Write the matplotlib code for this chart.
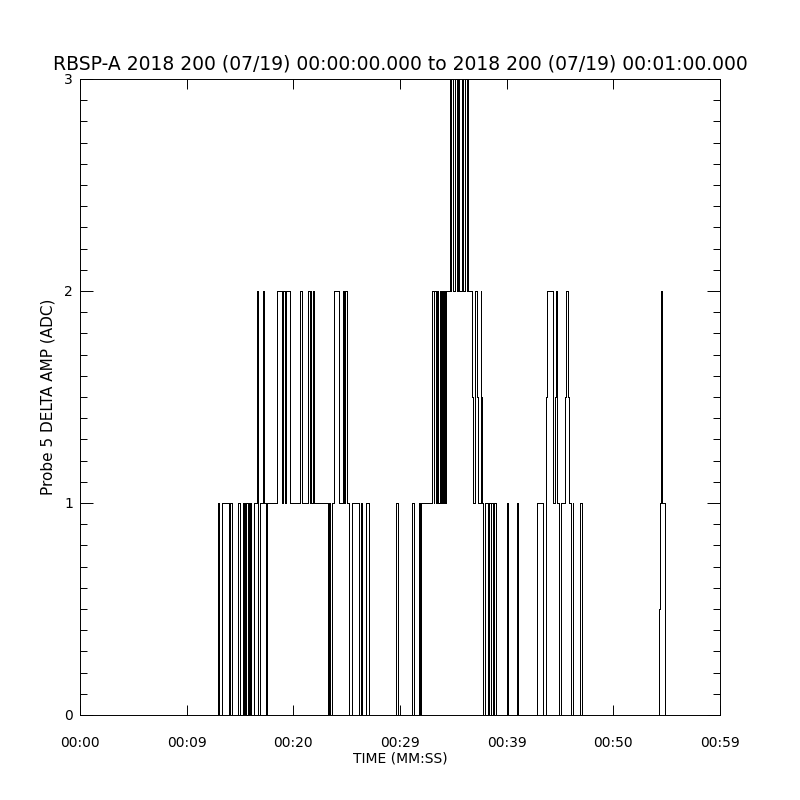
import numpy as np
import matplotlib
matplotlib.use("Agg")
import matplotlib.pyplot as plt
from matplotlib.ticker import MultipleLocator

# step transitions: time (s) at which the signal switches to the given level
t_sec = [0.0,
         12.891, 13.003, 13.341, 13.997, 14.109, 14.222, 14.841, 15.000,
         15.253, 15.347, 15.422, 15.534, 15.609, 15.722, 15.797, 15.891,
         15.966, 16.059, 16.284, 16.566, 16.659, 16.716, 16.903, 17.128,
         17.222, 17.409, 17.578,
         18.497, 18.938, 19.078, 19.219, 19.284, 19.688, 20.653, 20.784,
         21.375, 21.516, 21.609, 21.703, 21.797, 21.966,
         23.278, 23.372, 23.484, 23.597, 23.841, 24.309, 24.628, 24.750,
         24.844, 25.003, 25.247, 25.500, 26.184, 26.297, 26.438, 26.813,
         27.122,
         29.625, 29.841, 31.097, 31.313, 31.781, 31.847, 31.941,
         33.000, 33.141, 33.234, 33.347, 33.422, 33.591, 33.750, 33.844,
         33.938, 34.059, 34.125, 34.200, 34.266, 34.378,
         34.688, 34.753, 34.809, 34.997, 35.156, 35.316, 35.466, 35.559,
         35.784, 35.841, 35.934, 36.094, 36.253, 36.328, 36.403,
         36.722, 36.816, 37.031, 37.191, 37.284, 37.547, 37.594, 37.659,
         37.809, 37.969, 38.250, 38.316, 38.503, 38.578, 38.747, 38.841,
         39.000, 40.003, 40.153, 40.941, 41.091,
         42.872, 43.434, 43.641, 43.734, 43.809, 44.372, 44.531, 44.625,
         44.747, 44.934, 45.094, 45.469, 45.563, 45.778, 45.872, 46.078,
         46.172, 46.247, 46.875, 47.034,
         54.309, 54.375, 54.422, 54.497, 54.534, 54.591, 54.816, 54.872,
         60.0]
level = [0,
         1, 0, 1, 0, 1, 0, 1, 0,
         1, 0, 1, 0, 1, 0, 1, 0,
         1, 0, 1, 2, 1, 0, 1, 2,
         1, 0, 1,
         2, 1, 2, 1, 2, 1, 2, 1,
         2, 1, 2, 1, 2, 1,
         0, 1, 0, 1, 2, 1, 2, 1,
         2, 1, 0, 1, 0, 1, 0, 1,
         0,
         1, 0, 1, 0, 1, 0, 1,
         2, 1, 2, 1, 2, 1, 2, 1,
         2, 1, 2, 1, 2, 2,
         3, 2, 3, 2, 3, 2, 3, 2,
         2.5, 3, 2, 3, 2, 3, 2,
         1.5, 1, 2, 1.5, 1, 2, 1.5, 1,
         0, 1, 0, 1, 0, 1, 0, 1,
         0, 1, 0, 1, 0,
         1, 0, 1, 1.5, 2, 1, 1.5, 2,
         1, 0, 1, 1.5, 2, 1.5, 1, 0,
         1, 0, 1, 0,
         0.5, 1, 1.5, 2, 1.5, 1, 0.5, 0,
         0]

xtick_pos = [0, 10, 20, 30, 40, 50, 60]
xtick_lab = ["00:00", "00:09", "00:20", "00:29", "00:39", "00:50", "00:59"]
title = "RBSP-A 2018 200 (07/19) 00:00:00.000 to 2018 200 (07/19) 00:01:00.000"

fig = plt.figure(figsize=(8, 8), dpi=100)
ax = fig.add_axes([0.1, 0.10625, 0.8, 0.795])
ax.plot(t_sec, level, drawstyle="steps-post", color="black", lw=0.55,
        antialiased=False)
ax.set_xlim(0, 60)
ax.set_ylim(0, 3)
ax.set_xticks(xtick_pos)
ax.set_xticklabels(xtick_lab)
ax.set_yticks([0, 1, 2, 3])
ax.yaxis.set_minor_locator(MultipleLocator(0.1))
ax.tick_params(axis="x", direction="in", top=True, length=7.2, width=0.7,
               labelsize=10, pad=15)
ax.tick_params(axis="y", which="major", direction="in", right=True,
               length=9.4, width=0.7, labelsize=10, pad=5)
ax.tick_params(axis="y", which="minor", direction="in", right=True,
               length=4.8, width=0.7)
for s in ax.spines.values():
    s.set_linewidth(0.7)
ax.set_xlabel("TIME (MM:SS)", fontsize=10, labelpad=1)
ax.set_ylabel("Probe 5 DELTA AMP (ADC)", fontsize=11, labelpad=6)
fig.text(0.5, 0.92, title, ha="center", va="center", fontsize=13.5)
fig.savefig("out.png", dpi=100)
